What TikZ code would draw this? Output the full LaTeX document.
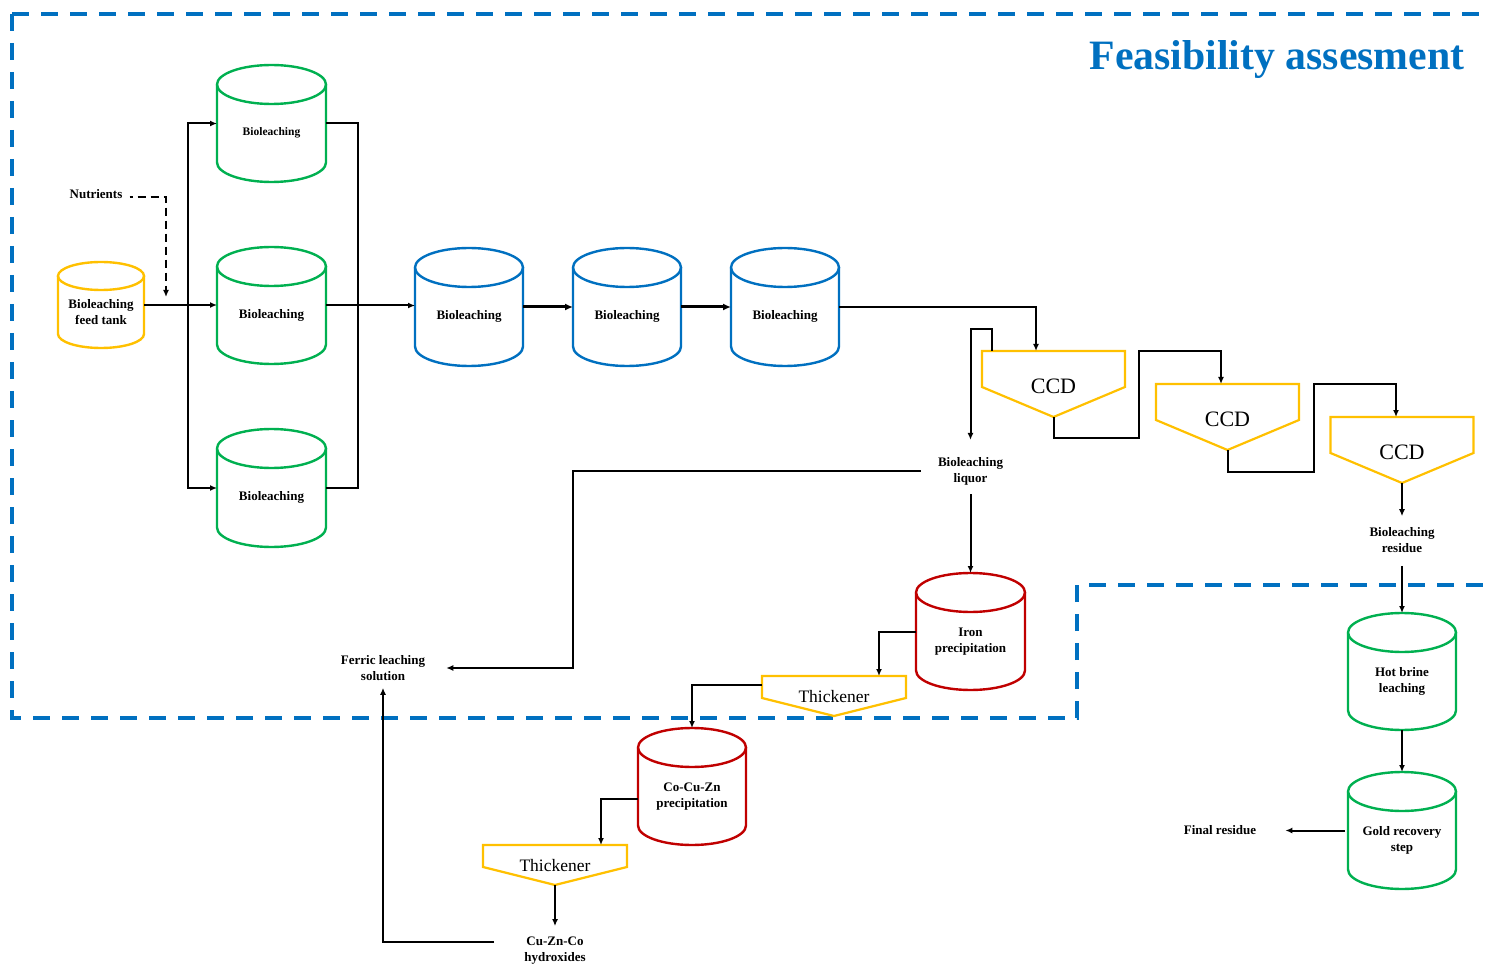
\documentclass[tikz,border=0pt]{standalone}
\usepackage{fontspec}
\setmainfont{Liberation Serif}
\usetikzlibrary{arrows.meta}
\definecolor{cblue}{HTML}{0070C0}
\definecolor{cgreen}{HTML}{00B050}
\definecolor{cgold}{HTML}{FFC000}
\definecolor{cred}{HTML}{C00000}

% #1 name, #2 cx, #3 top y, #4 bottom y, #5 width, #6 ry, #7 colour, #8 text
\newcommand{\tank}[8]{%
  \node[tankbox, minimum width=#5pt, minimum height={(#4-#3)*1pt}] (#1) at (#2,{(#3+#4)/2}) {};
  \draw[tankline, draw=#7] ({#2-#5/2},{#3+#6}) -- ({#2-#5/2},{#4-#6})
     arc[start angle=180, end angle=360, x radius={#5/2*1pt}, y radius={#6*1pt}]
     -- ({#2+#5/2},{#3+#6});
  \draw[tankline, draw=#7] (#2,{#3+#6}) ellipse [x radius={#5/2*1pt}, y radius={#6*1pt}];
  \node[lab] (#1-t) at (#2,{(#3+#6+#4)/2}) {#8};
}
% #1 name, #2 left, #3 top, #4 width, #5 shoulder, #6 height, #7 text, #8 font size
\newcommand{\settler}[8]{%
  \node[tankbox, minimum width=#4pt, minimum height=#6pt] (#1) at ({#2+#4/2},{#3+#6/2}) {};
  \draw[setline] (#2,#3) -- ({#2+#4},#3) -- ({#2+#4},{#3+#5}) -- ({#2+#4/2},{#3+#6}) -- (#2,{#3+#5}) -- cycle;
  \node[font=\fontsize{#8}{#8}\selectfont, inner sep=0pt] (#1-t) at ({#2+#4/2},{#3+#5-1}) {#7};
}

\begin{document}
\begin{tikzpicture}[x=1pt, y=-1pt,
  tankbox/.style={rectangle, draw=none, inner sep=0pt, outer sep=0pt},
  tankline/.style={line width=2.4pt},
  setline/.style={draw=cgold, line width=2.2pt, line join=miter},
  lab/.style={font=\bfseries\fontsize{13}{16}\selectfont, align=center, inner sep=3pt},
  conn/.style={draw=black, line width=2pt},
  flow/.style={conn, -{Latex[length=7pt,width=6pt]}},
  flowthick/.style={draw=black, line width=3pt, -{Latex[length=8pt,width=7pt]}},
  bound/.style={draw=cblue, line width=4pt, dash pattern=on 17pt off 12pt},
  nutline/.style={draw=black, line width=2pt, dash pattern=on 8pt off 5pt, dash phase=5pt, -{Latex[length=7pt,width=6pt]}}
]
\useasboundingbox (0,0) rectangle (1491,965);

% feasibility boundary
\draw[bound] (12,14) -- (1491,14);
\draw[bound] (12,14) -- (12,718) -- (1077,718) -- (1077,585) -- (1491,585);
\node[font=\bfseries\fontsize{41.8}{42}\selectfont, text=cblue, anchor=base] (title) at (1277,70) {Feasibility assesment};

% tanks
\tank{feed}{101}{262}{348}{86}{14}{cgold}{Bioleaching\\feed tank}
\tank{g1}{271.5}{65}{182}{109}{19.5}{cgreen}{\fontsize{11.5}{14}\selectfont Bioleaching}
\tank{g2}{271.5}{247}{364}{109}{19.5}{cgreen}{Bioleaching}
\tank{g3}{271.5}{429}{547}{109}{19.5}{cgreen}{Bioleaching}
\tank{b1}{469}{248}{366}{108}{19.5}{cblue}{Bioleaching}
\tank{b2}{627}{248}{366}{108}{19.5}{cblue}{Bioleaching}
\tank{b3}{785}{248}{366}{108}{19.5}{cblue}{Bioleaching}
\tank{iron}{970.5}{573}{690}{109}{19.5}{cred}{Iron\\precipitation}
\tank{cocu}{692}{728}{845}{108}{19.5}{cred}{Co-Cu-Zn\\precipitation}
\tank{hot}{1402}{613}{730}{108}{19.5}{cgreen}{Hot brine\\leaching}
\tank{gold}{1402}{772}{889}{108}{19.5}{cgreen}{Gold recovery\\step}

% settlers
\settler{ccd1}{982}{351}{143}{36}{66}{CCD}{22}
\settler{ccd2}{1156}{384}{143}{36}{66}{CCD}{22}
\settler{ccd3}{1330.5}{417}{143}{36}{66}{CCD}{22}
\settler{th1}{762}{676}{144}{22}{40}{Thickener}{17.5}
\settler{th2}{483}{845}{144}{22}{40}{Thickener}{17.5}

% text labels
\node[lab] (nut) at (96,194) {Nutrients};
\node[lab] (liq) at (970.5,471) {Bioleaching\\liquor};
\node[lab] (res) at (1402,540) {Bioleaching\\residue};
\node[lab] (fer) at (383,668) {Ferric leaching\\solution};
\node[lab] (cu) at (555,951) {Cu-Zn-Co\\hydroxides};
\node[lab] (fin) at (1220,830.5) {Final residue};

% nutrients
\coordinate (nutin) at (166,297);
\draw[nutline] ([shift={(4pt,-3pt)}]nut.east) -| (nutin);

% feed distribution
\draw[flow] (feed.east) -- (feed.east -| g2.west);
\draw[flow] (188,305) |- (g1.west);
\draw[flow] (188,305) |- (g3.west);
\draw[conn] (g1.east) -| (358,305) |- (g3.east);
\draw[flow] (g2.east) -- (g2.east -| b1.west);
\draw[flowthick] (b1.east) -- (b2.west);
\draw[flowthick] (b2.east) -- (b3.west);
\draw[flow] (b3.east) -| ([xshift=-17.5pt]ccd1.north);

% CCD train
\draw[flow] (ccd1.south) |- (1139,438) -- (1139,351) -| ([xshift=-6.5pt]ccd2.north);
\draw[flow] (ccd2.south) |- (1314,472) -- (1314,384) -| ([xshift=-6pt]ccd3.north);
\draw[flow] ([xshift=-61.5pt]ccd1.north) |- (970.5,329) -- ([yshift=14pt]liq.north);
\draw[flow] (ccd3.south) -- ([yshift=8pt]res.north);

% liquor treatment
\draw[flow] ([xshift=-14pt]liq.west) -| (573,580) |- ([xshift=18pt]fer.east);
\draw[flow] ([yshift=-6pt]liq.south) -- (iron.north);
\draw[flow] (iron.west) -| ([xshift=45pt]th1.north);
\draw[flow] ([yshift=-9pt]th1.north west) -| (cocu.north);
\draw[flow] ([yshift=-12pt]cocu.west) -| ([xshift=46pt]th2.north);
\draw[flow] (th2.south) -- ([yshift=8pt]cu.north);
\draw[flow] ([shift={(-27pt,9pt)}]cu.west) -| ([yshift=-4pt]fer.south);

% residue treatment
\draw[flow] ([yshift=-10pt]res.south) -- (hot.north);
\draw[flow] (hot.south) -- (gold.north);
\draw[flow] ([xshift=-3pt]gold.west) -- ([xshift=26pt]fin.east);
\end{tikzpicture}
\end{document}
